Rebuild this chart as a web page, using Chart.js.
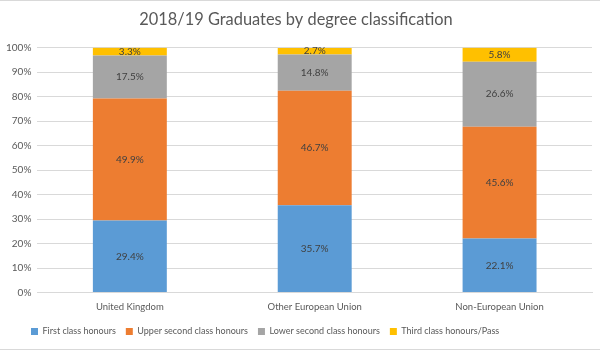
<!DOCTYPE html>
<html>
<head>
<meta charset="utf-8">
<script src="https://cdn.jsdelivr.net/npm/chart.js@4"></script>
<style>
html,body{margin:0;padding:0;background:#fff;}
#wrap{position:relative;width:600px;height:350px;box-sizing:border-box;border-top:1px solid #d9d9d9;border-bottom:1px solid #d9d9d9;}
</style>
</head>
<body>
<div id="wrap"><canvas id="c"></canvas></div>
<script>
const categories = ["United Kingdom", "Other European Union", "Non-European Union"];
const firstClass = [29.4, 35.7, 22.1];
const upperSecond = [49.9, 46.7, 45.6];
const lowerSecond = [17.5, 14.8, 26.6];
const thirdPass = [3.3, 2.7, 5.8];
const seriesNames = ["First class honours", "Upper second class honours", "Lower second class honours", "Third class honours/Pass"];
const yTicks = [0,10,20,30,40,50,60,70,80,90,100];

const FONT = "Lato, 'Open Sans', sans-serif";
const textColor = "#595959";

const labelPlugin = {
  id: 'barLabels',
  afterDatasetsDraw(chart) {
    const ctx = chart.ctx;
    ctx.save();
    ctx.font = "10px " + FONT;
    ctx.fillStyle = "#404040";
    ctx.textAlign = "center";
    ctx.textBaseline = "middle";
    chart.data.datasets.forEach((ds, i) => {
      const meta = chart.getDatasetMeta(i);
      meta.data.forEach((bar, j) => {
        const v = ds.data[j];
        const yc = (bar.y + bar.base) / 2;
        ctx.fillText(v.toFixed(1) + "%", bar.x, yc);
      });
    });
    ctx.restore();
  }
};

// nudge the legend row, as in the original
const legendShift = {
  id: 'legendShift',
  afterLayout(chart) {
    const lg = chart.legend;
    if (lg) { lg.left += 21; lg.right += 21; lg.top += 3; lg.bottom += 3; }
  }
};

new Chart(document.getElementById('c'), {
  type: 'bar',
  data: {
    labels: categories,
    datasets: [
      {label: seriesNames[0], data: firstClass, backgroundColor: "#5B9BD5"},
      {label: seriesNames[1], data: upperSecond, backgroundColor: "#ED7D31"},
      {label: seriesNames[2], data: lowerSecond, backgroundColor: "#A5A5A5"},
      {label: seriesNames[3], data: thirdPass, backgroundColor: "#FFC000"}
    ]
  },
  options: {
    responsive: true,
    maintainAspectRatio: false,
    animation: false,
    layout: {padding: {left: 0, right: 8, top: 2, bottom: 6}},
    datasets: {bar: {categoryPercentage: 0.4, barPercentage: 1.0}},
    plugins: {
      title: {
        display: true,
        text: "2018/19 Graduates by degree classification",
        color: textColor,
        font: {family: FONT, size: 16.4, weight: 'normal'},
        padding: {top: 7, bottom: 18}
      },
      legend: {
        position: 'bottom',
        align: 'start',
        labels: {
          boxWidth: 7, boxHeight: 7,
          color: textColor,
          font: {family: FONT, size: 9},
          padding: 10
        }
      },
      tooltip: {enabled: false}
    },
    scales: {
      x: {
        stacked: true,
        grid: {display: false},
        border: {color: "#d9d9d9"},
        ticks: {color: textColor, font: {family: FONT, size: 9.5}, padding: 1}
      },
      y: {
        stacked: true,
        min: 0, max: 100,
        afterBuildTicks(axis) { axis.ticks = yTicks.map(v => ({value: v})); },
        grid: {color: "#d9d9d9", drawTicks: false},
        border: {display: false},
        ticks: {color: textColor, font: {family: FONT, size: 10}, padding: 6, callback: v => v + "%"}
      }
    }
  },
  plugins: [labelPlugin, legendShift]
});
</script>
</body>
</html>
